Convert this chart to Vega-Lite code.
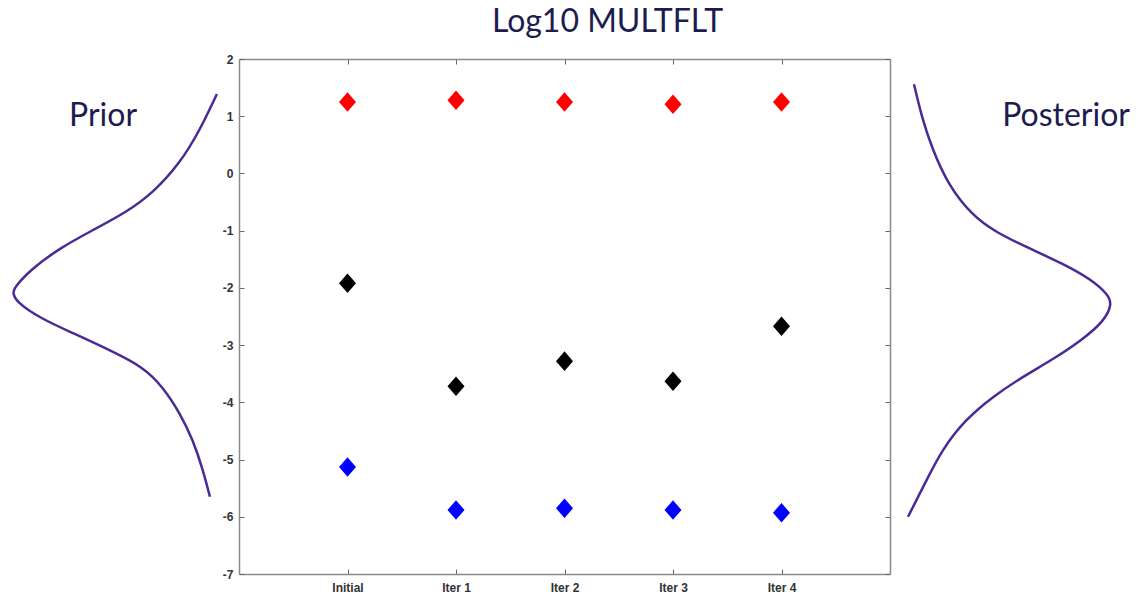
{
  "$schema": "https://vega.github.io/schema/vega-lite/v6.json",
  "padding": {"top": 6, "left": 0, "right": 0, "bottom": 0},
  "background": "white",
  "bounds": "flush",
  "spacing": 14,
  "config": {"view": {"stroke": null}, "font": "Liberation Sans"},
  "datasets": {
    "points": [
      {"run": "Initial", "series": "Upper", "value": 1.25},
      {"run": "Initial", "series": "Estimate", "value": -1.92},
      {"run": "Initial", "series": "Lower", "value": -5.13},
      {"run": "Iter 1", "series": "Upper", "value": 1.28},
      {"run": "Iter 1", "series": "Estimate", "value": -3.72},
      {"run": "Iter 1", "series": "Lower", "value": -5.88},
      {"run": "Iter 2", "series": "Upper", "value": 1.25},
      {"run": "Iter 2", "series": "Estimate", "value": -3.28},
      {"run": "Iter 2", "series": "Lower", "value": -5.85},
      {"run": "Iter 3", "series": "Upper", "value": 1.21},
      {"run": "Iter 3", "series": "Estimate", "value": -3.63},
      {"run": "Iter 3", "series": "Lower", "value": -5.88},
      {"run": "Iter 4", "series": "Upper", "value": 1.25},
      {"run": "Iter 4", "series": "Estimate", "value": -2.67},
      {"run": "Iter 4", "series": "Lower", "value": -5.93}
    ],
    "prior": [
      {"i": 1, "density": 0.036, "value": 1.39},
      {"i": 2, "density": 0.111, "value": 0.76},
      {"i": 3, "density": 0.2, "value": 0.18},
      {"i": 4, "density": 0.32, "value": -0.34},
      {"i": 5, "density": 0.436, "value": -0.67},
      {"i": 6, "density": 0.587, "value": -0.99},
      {"i": 7, "density": 0.733, "value": -1.3},
      {"i": 8, "density": 0.867, "value": -1.69},
      {"i": 9, "density": 0.933, "value": -1.98},
      {"i": 10, "density": 0.945, "value": -2.09},
      {"i": 11, "density": 0.925, "value": -2.25},
      {"i": 12, "density": 0.822, "value": -2.53},
      {"i": 13, "density": 0.676, "value": -2.79},
      {"i": 14, "density": 0.511, "value": -3.09},
      {"i": 15, "density": 0.364, "value": -3.38},
      {"i": 16, "density": 0.276, "value": -3.73},
      {"i": 17, "density": 0.2, "value": -4.19},
      {"i": 18, "density": 0.142, "value": -4.66},
      {"i": 19, "density": 0.098, "value": -5.18},
      {"i": 20, "density": 0.067, "value": -5.65}
    ],
    "posterior": [
      {"i": 1, "density": 0.042, "value": 1.56},
      {"i": 2, "density": 0.076, "value": 0.97},
      {"i": 3, "density": 0.118, "value": 0.44},
      {"i": 4, "density": 0.186, "value": -0.2},
      {"i": 5, "density": 0.287, "value": -0.73},
      {"i": 6, "density": 0.384, "value": -1.02},
      {"i": 7, "density": 0.523, "value": -1.3},
      {"i": 8, "density": 0.667, "value": -1.57},
      {"i": 9, "density": 0.793, "value": -1.86},
      {"i": 10, "density": 0.861, "value": -2.12},
      {"i": 11, "density": 0.878, "value": -2.28},
      {"i": 12, "density": 0.845, "value": -2.58},
      {"i": 13, "density": 0.751, "value": -2.91},
      {"i": 14, "density": 0.624, "value": -3.26},
      {"i": 15, "density": 0.498, "value": -3.56},
      {"i": 16, "density": 0.371, "value": -3.91},
      {"i": 17, "density": 0.257, "value": -4.31},
      {"i": 18, "density": 0.16, "value": -4.83},
      {"i": 19, "density": 0.089, "value": -5.41},
      {"i": 20, "density": 0.017, "value": -6.0}
    ]
  },
  "hconcat": [
    {
      "width": 225,
      "height": 515,
      "layer": [
        {
          "data": {"name": "prior"},
          "mark": {"type": "line", "interpolate": "basis", "color": "#4b2a94", "strokeWidth": 2.5, "clip": false},
          "encoding": {
            "x": {"field": "density", "type": "quantitative", "scale": {"domain": [0, 1], "reverse": true, "nice": false}, "axis": null},
            "y": {"field": "value", "type": "quantitative", "scale": {"domain": [-7, 2], "nice": false}, "axis": null},
            "order": {"field": "i", "type": "quantitative"}
          }
        },
        {
          "data": {"values": [{"label": "Prior", "density": 0.542, "value": 0.83}]},
          "mark": {"type": "text", "font": "Lato", "fontSize": 32, "color": "#1c1c4e", "baseline": "alphabetic", "align": "center"},
          "encoding": {
            "x": {"field": "density", "type": "quantitative", "scale": {"domain": [0, 1], "reverse": true, "nice": false}, "axis": null},
            "y": {"field": "value", "type": "quantitative", "scale": {"domain": [-7, 2], "nice": false}, "axis": null},
            "text": {"field": "label"}
          }
        }
      ]
    },
    {
      "width": 651,
      "height": 515,
      "title": {"text": "Log10 MULTFLT", "font": "Lato", "fontSize": 32, "fontWeight": "normal", "color": "#1c1c4e", "anchor": "middle", "dx": 43, "offset": 14},
      "data": {"name": "points"},
      "layer": [
        {
          "mark": {"type": "point", "shape": "M0,-1.15L1,0L0,1.15L-1,0Z", "filled": true, "size": 289, "opacity": 1, "strokeWidth": 1.2, "strokeOpacity": 0.5},
          "encoding": {
            "x": {"field": "run", "type": "nominal", "sort": ["Initial", "Iter 1", "Iter 2", "Iter 3", "Iter 4"], "scale": {"type": "point", "padding": 1},
              "axis": {"orient": "bottom", "title": null, "labelAngle": 0, "grid": false, "domainColor": "#8a8a8a", "domainWidth": 1.5, "tickColor": "#666", "tickSize": -5, "labelPadding": 13, "labelFont": "Liberation Sans", "labelFontSize": 12, "labelFontWeight": "bold", "labelColor": "#333"}},
            "y": {"field": "value", "type": "quantitative", "scale": {"domain": [-7, 2], "nice": false},
              "axis": {"orient": "left", "title": null, "grid": false, "values": [-7, -6, -5, -4, -3, -2, -1, 0, 1, 2], "labelExpr": "datum.value + ''", "domainColor": "#8a8a8a", "domainWidth": 1.5, "tickColor": "#666", "tickSize": -5, "labelPadding": 11, "labelFont": "Liberation Sans", "labelFontSize": 12, "labelFontWeight": "bold", "labelColor": "#333"}},
            "color": {"field": "series", "type": "nominal", "scale": {"domain": ["Upper", "Estimate", "Lower"], "range": ["#ff0000", "#000000", "#0000ff"]}, "legend": null}
          }
        },
        {
          "mark": {"type": "point", "opacity": 0},
          "encoding": {
            "x": {"field": "run", "type": "nominal", "sort": ["Initial", "Iter 1", "Iter 2", "Iter 3", "Iter 4"], "scale": {"type": "point", "padding": 1},
              "axis": {"orient": "top", "title": null, "labels": false, "grid": false, "domainColor": "#8a8a8a", "domainWidth": 1.5, "tickColor": "#666", "tickSize": -5}},
            "y": {"field": "value", "type": "quantitative", "scale": {"domain": [-7, 2], "nice": false},
              "axis": {"orient": "right", "title": null, "labels": false, "grid": false, "values": [-7, -6, -5, -4, -3, -2, -1, 0, 1, 2], "domainColor": "#8a8a8a", "domainWidth": 1.5, "tickColor": "#666", "tickSize": -5}}
          }
        }
      ],
      "resolve": {"axis": {"x": "independent", "y": "independent"}}
    },
    {
      "width": 237,
      "height": 515,
      "layer": [
        {
          "data": {"name": "posterior"},
          "mark": {"type": "line", "interpolate": "basis", "color": "#4b2a94", "strokeWidth": 2.5, "clip": false},
          "encoding": {
            "x": {"field": "density", "type": "quantitative", "scale": {"domain": [0, 1], "nice": false}, "axis": null},
            "y": {"field": "value", "type": "quantitative", "scale": {"domain": [-7, 2], "nice": false}, "axis": null},
            "order": {"field": "i", "type": "quantitative"}
          }
        },
        {
          "data": {"values": [{"label": "Posterior", "density": 0.684, "value": 0.83}]},
          "mark": {"type": "text", "font": "Lato", "fontSize": 32, "color": "#1c1c4e", "baseline": "alphabetic", "align": "center"},
          "encoding": {
            "x": {"field": "density", "type": "quantitative", "scale": {"domain": [0, 1], "nice": false}, "axis": null},
            "y": {"field": "value", "type": "quantitative", "scale": {"domain": [-7, 2], "nice": false}, "axis": null},
            "text": {"field": "label"}
          }
        }
      ]
    }
  ]
}
